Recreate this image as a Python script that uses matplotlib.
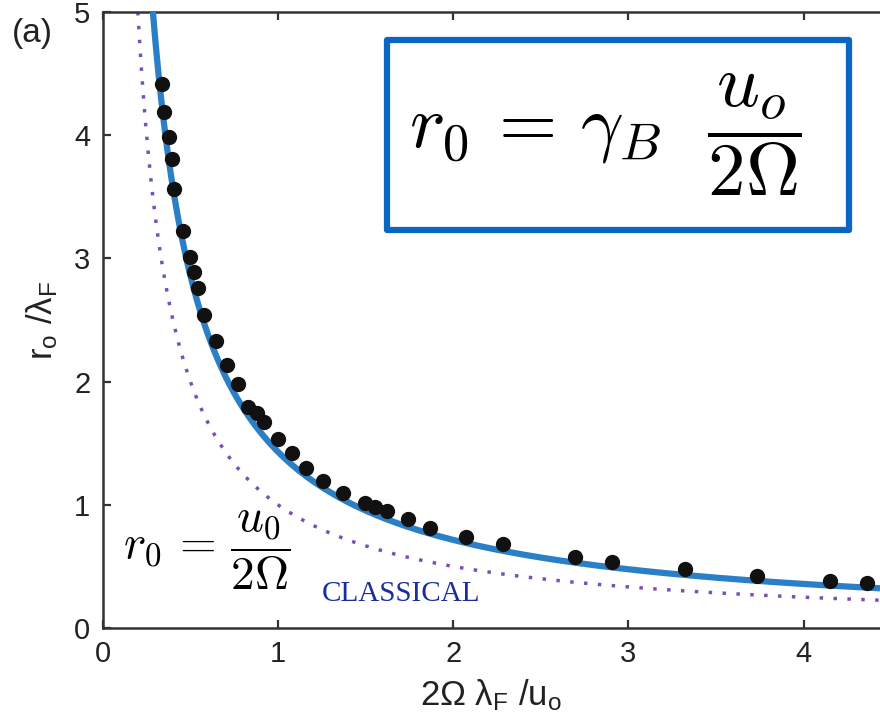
import matplotlib.pyplot as plt
from matplotlib.patches import Rectangle
import numpy as np

plt.rcParams['font.family'] = ['Liberation Sans', 'DejaVu Sans']
plt.rcParams['mathtext.fontset'] = 'custom'
plt.rcParams['mathtext.rm'] = 'Liberation Sans'
plt.rcParams['mathtext.it'] = 'Liberation Sans:italic'
plt.rcParams['mathtext.sf'] = 'Liberation Sans'

# measured orbital radii (in Faraday wavelengths) vs 2*Omega*lambda_F/u0
x_meas = [0.336, 0.351, 0.380, 0.397, 0.408, 0.459, 0.498, 0.521, 0.543, 0.579,
          0.644, 0.711, 0.770, 0.830, 0.878, 0.922, 0.998, 1.082, 1.160, 1.255,
          1.373, 1.497, 1.554, 1.624, 1.744, 1.868, 2.073, 2.286, 2.695, 2.905,
          3.323, 3.732, 4.151, 4.360]
r_meas = [4.416, 4.191, 3.988, 3.804, 3.561, 3.225, 3.015, 2.892, 2.760, 2.541,
          2.332, 2.135, 1.978, 1.796, 1.743, 1.674, 1.531, 1.422, 1.299, 1.196,
          1.093, 1.017, 0.985, 0.952, 0.882, 0.809, 0.741, 0.682, 0.579, 0.539,
          0.477, 0.422, 0.382, 0.363]

gamma_B = 1.43      # fitted prefactor
x_max = 4.436
y_max = 5.0

W, H = 880, 721
fig = plt.figure(figsize=(W / 100, H / 100), dpi=100)
ax = fig.add_axes([102.8 / W, 1 - 628 / H, 1 - 102.8 / W, 616 / H])

# classical curve r0 = u0 / (2 Omega)
xc = np.linspace(1 / y_max, x_max, 400)
ax.plot(xc, 1 / xc, color='#7a50b8', lw=2.5, ls=(0, (1, 3)), zorder=2)

# fitted curve r0 = gamma_B u0 / (2 Omega)
xb = np.linspace(gamma_B / 5.2, x_max, 400)
ax.plot(xb, gamma_B / xb, color='#2b7fc6', lw=4.5, solid_capstyle='butt', zorder=3)

ax.plot(x_meas, r_meas, 'o', color='#111111', ms=10, zorder=4)

ax.set_xlim(0, x_max)
ax.set_ylim(0, y_max)
ax.set_xticks([0, 1, 2, 3, 4])
ax.set_yticks([0, 1, 2, 3, 4, 5])
ax.tick_params(direction='in', length=6, width=1.6, labelsize=21, pad=9,
               top=True, right=False, colors='#333333', labelcolor='#222222')
for side in ['left', 'bottom', 'top']:
    ax.spines[side].set_linewidth(1.8)
    ax.spines[side].set_color('#333333')
ax.spines['right'].set_visible(False)

ax.set_xlabel(r'2Ω λ$_\mathrm{F}$ /u$_\mathrm{o}$', fontsize=25, color='#222222', labelpad=6)
ax.set_ylabel(r'r$_\mathrm{o}$ /λ$_\mathrm{F}$', fontsize=25, color='#222222', labelpad=10)

fig.text(12 / W, 1 - 42 / H, '(a)', fontsize=24, color='#222222')

# boxed fit formula
box = Rectangle((387 / W, 1 - 230 / H), (849 - 387) / W, 190 / H,
                transform=fig.transFigure, fill=False, edgecolor='#0a66c2',
                lw=4.5, joinstyle='round', zorder=5)
fig.add_artist(box)
fig.text(605 / W, 1 - 135 / H, r'$r_0\,=\,\gamma_B\ \ \dfrac{u_o}{2\Omega}$',
         math_fontfamily='cm', fontsize=54, ha='center', va='center')

fig.text(207 / W, 1 - 550 / H, r'$r_0\,=\,\dfrac{u_0}{2\Omega}$',
         math_fontfamily='cm', fontsize=34, ha='center', va='center')
fig.text(322 / W, 1 - 601 / H, 'CLASSICAL', fontsize=21, color='#1a2d9c',
         family='Liberation Serif')

fig.savefig('out.png', dpi=100)
